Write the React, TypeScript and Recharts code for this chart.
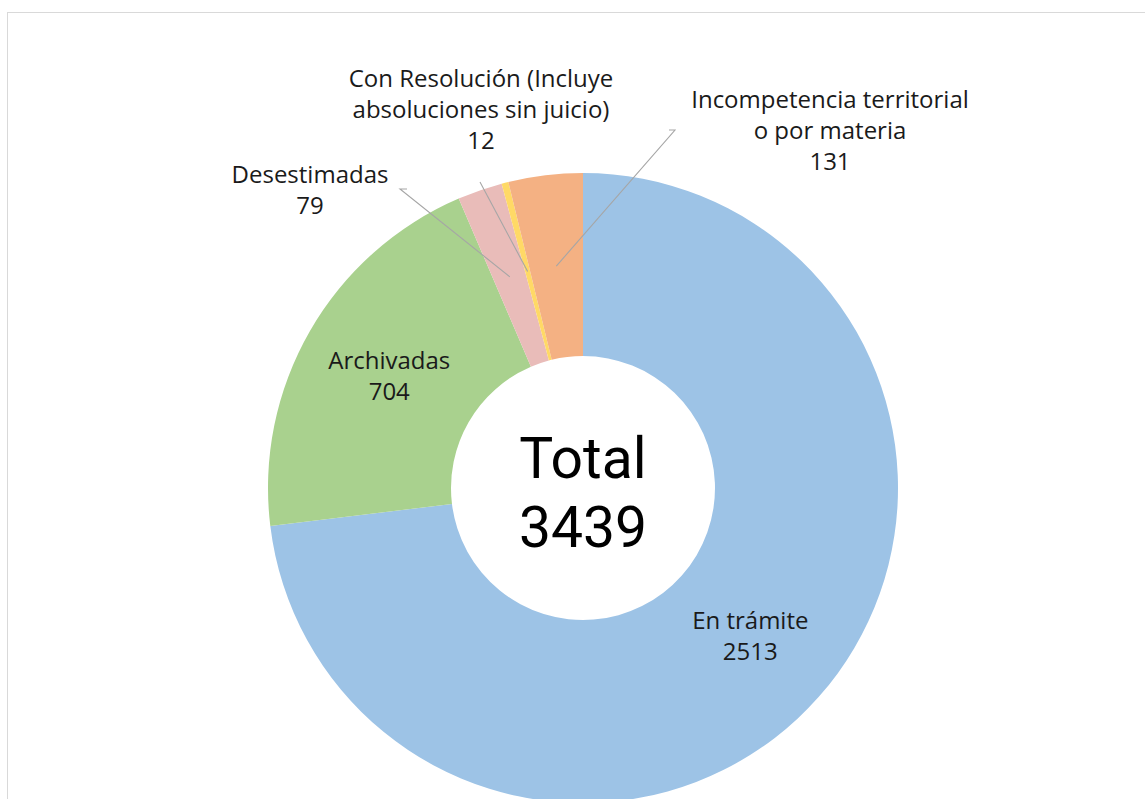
import React from 'react';
import { PieChart, Pie, Cell } from 'recharts';

const categories = [
  'En trámite',
  'Archivadas',
  'Desestimadas',
  'Con Resolución (Incluye absoluciones sin juicio)',
  'Incompetencia territorial o por materia',
];
const values = [2513, 704, 79, 12, 131];
const labelLines = [
  ['En trámite'],
  ['Archivadas'],
  ['Desestimadas'],
  ['Con Resolución (Incluye', 'absoluciones sin juicio)'],
  ['Incompetencia territorial', 'o por materia'],
];
const colors = ['#9DC3E6', '#A9D18E', '#E9BCB9', '#FFD966', '#F4B183'];
const totalTitle = 'Total';

const data = categories.map((name, i) => ({ name, value: values[i] }));
const total = values.reduce((a, b) => a + b, 0);

// Placement of the outside labels, relative to the pie centre
const outside: Record<number, { tx: number; ty: number; ex: number; ey: number; elbow: number }> = {
  2: { tx: -273, ty: -305, ex: -183, ey: -299, elbow: -7 },
  3: { tx: -102, ty: -401, ex: -103, ey: -306, elbow: 0 },
  4: { tx: 247, ty: -380, ex: 92, ey: -358, elbow: 6 },
};

const FONT = '"Open Sans", sans-serif';
const CENTER_FONT = 'Roboto, sans-serif';
const FS = 24;
const LH = 31;
const RADIAN = Math.PI / 180;

const renderLabel = (props: any) => {
  const { cx, cy, midAngle, innerRadius, outerRadius, index, value } = props;
  const r = (innerRadius + outerRadius) / 2;
  const ax = cx + r * Math.cos(-midAngle * RADIAN);
  const ay = cy + r * Math.sin(-midAngle * RADIAN);
  const lines = [...labelLines[index], String(value)];
  const els: React.ReactNode[] = [];
  if (outside[index]) {
    const o = outside[index];
    const ex = cx + o.ex;
    const ey = cy + o.ey;
    const pts = o.elbow !== 0 ? `${ax},${ay} ${ex},${ey} ${ex - o.elbow},${ey}` : `${ax},${ay} ${ex},${ey}`;
    els.push(<polyline key="l" points={pts} fill="none" stroke="#A6A6A6" strokeWidth={1.1} />);
    lines.forEach((t, i) => {
      els.push(
        <text key={i} x={cx + o.tx} y={cy + o.ty + i * LH} textAnchor="middle" fontFamily={FONT} fontSize={FS} fill="#1a1a1a">
          {t}
        </text>
      );
    });
  } else {
    const first = ay - ((lines.length - 1) * LH) / 2 + 8;
    lines.forEach((t, i) => {
      els.push(
        <text key={i} x={ax} y={first + i * LH} textAnchor="middle" fontFamily={FONT} fontSize={FS} fill="#1a1a1a">
          {t}
        </text>
      );
    });
  }
  if (index === 0) {
    els.push(
      <text key="t1" x={cx} y={cy - 10} textAnchor="middle" fontFamily={CENTER_FONT} fontSize={57} fill="#000">
        {totalTitle}
      </text>
    );
    els.push(
      <text key="t2" x={cx} y={cy + 59} textAnchor="middle" fontFamily={CENTER_FONT} fontSize={57} fill="#000">
        {String(total)}
      </text>
    );
  }
  return <g>{els}</g>;
};

export default function App() {
  return (
    <div style={{ position: 'fixed', left: 0, top: 0, width: 1145, height: 799, overflow: 'hidden', background: '#fff' }}>
      <div
        style={{
          position: 'absolute',
          left: 7,
          top: 12,
          width: 1300,
          height: 1000,
          borderLeft: '1px solid #D9D9D9',
          borderTop: '1px solid #D9D9D9',
        }}
      />
      <div style={{ position: 'absolute', left: 0, top: 0 }}>
        <PieChart width={1145} height={799} margin={{ top: 0, right: 0, bottom: 0, left: 0 }}>
          <Pie
            data={data}
            dataKey="value"
            nameKey="name"
            cx={583}
            cy={488}
            innerRadius={132}
            outerRadius={315}
            startAngle={90}
            endAngle={-270}
            stroke="none"
            isAnimationActive={false}
            label={renderLabel}
            labelLine={false}
          >
            {data.map((d, i) => (
              <Cell key={d.name} fill={colors[i]} stroke="none" />
            ))}
          </Pie>
        </PieChart>
      </div>
    </div>
  );
}
